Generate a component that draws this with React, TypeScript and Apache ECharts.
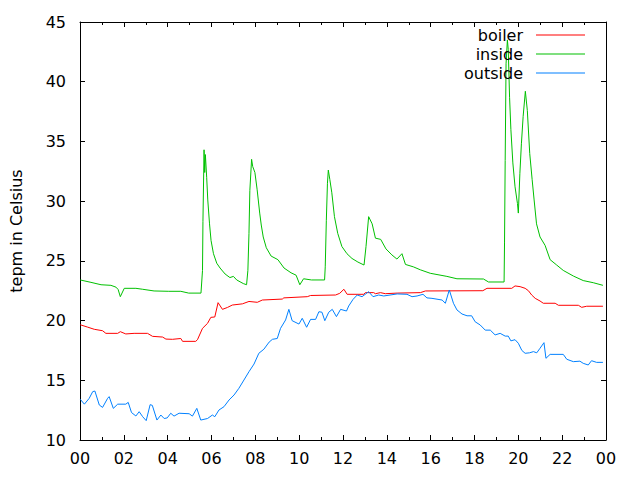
import React, { useEffect, useRef } from "react";
import * as echarts from "echarts";

// Hours of day (0-24) and temperatures in °C
const boilerHours = [0.01,0.35,0.65,1.03,1.18,1.72,1.84,2.09,2.47,3.08,3.31,3.77,3.92,4.22,4.60,4.68,5.28,5.36,5.59,5.82,5.97,6.15,6.30,6.50,6.73,6.95,7.41,7.71,8.09,8.32,9.23,9.30,10.37,10.52,11.66,11.85,12.04,12.19,12.95,13.02,13.40,13.48,13.71,13.93,14.47,15.53,15.76,18.38,18.57,19.70,19.85,20.08,20.31,20.46,20.61,20.77,20.99,21.14,21.68,21.83,22.74,22.89,23.12,23.86];
const boilerTemps = [19.65,19.45,19.27,19.15,18.93,18.93,19.07,18.88,18.93,18.93,18.68,18.62,18.45,18.43,18.5,18.26,18.26,18.4,19.35,19.77,20.27,20.3,21.5,20.94,21.1,21.3,21.4,21.6,21.53,21.72,21.8,21.9,22.0,22.1,22.14,22.28,22.62,22.2,22.2,22.34,22.34,22.25,22.34,22.25,22.3,22.34,22.48,22.5,22.7,22.7,22.9,22.84,22.7,22.5,22.14,21.86,21.64,21.45,21.45,21.28,21.28,21.11,21.2,21.2];

const insideHours = [0.01,0.50,0.96,1.41,1.64,1.74,1.84,2.02,2.55,2.86,3.38,4.05,4.60,4.96,5.52,5.59,5.61,5.66,5.69,5.72,5.78,5.83,5.91,5.98,6.09,6.24,6.39,6.62,6.84,7.00,7.15,7.45,7.60,7.66,7.71,7.75,7.83,7.88,7.98,8.08,8.20,8.27,8.36,8.50,8.72,9.03,9.31,9.63,9.86,10.03,10.20,10.56,11.16,11.19,11.24,11.29,11.33,11.40,11.49,11.61,11.76,11.95,12.18,12.41,12.68,12.96,13.05,13.17,13.33,13.48,13.72,13.96,14.23,14.46,14.69,14.85,15.21,15.53,15.98,16.74,17.20,18.41,18.64,19.35,19.37,19.40,19.44,19.50,19.54,19.60,19.66,19.75,19.85,19.96,20.00,20.07,20.14,20.22,20.32,20.41,20.52,20.63,20.72,20.83,20.99,21.22,21.45,21.75,22.05,22.51,22.96,23.42,23.86];
const insideTemps = [23.4,23.2,23.0,22.95,22.8,22.6,22.0,22.7,22.7,22.62,22.48,22.45,22.45,22.3,22.3,24.2,28.3,34.3,32.4,33.9,32.0,30.1,28.1,26.7,25.6,24.8,24.4,23.9,23.6,23.7,23.4,23.1,23.0,24.2,27.3,30.9,33.5,32.9,32.4,31.0,29.0,28.0,27.0,26.1,25.4,25.1,24.4,24.0,23.8,23.0,23.5,23.4,23.4,24.5,28.4,31.5,32.6,31.8,30.7,28.7,27.3,26.2,25.6,25.2,24.9,24.65,26.2,28.7,28.1,26.9,26.8,26.0,25.5,25.15,25.6,24.7,24.5,24.25,23.96,23.7,23.5,23.48,23.23,23.23,26.5,33.4,41.5,43.5,42.7,38.7,36.0,33.2,31.2,29.8,29.0,32.3,34.8,37.1,39.2,37.6,34.0,31.8,30.1,28.1,27.0,26.3,25.1,24.65,24.2,23.73,23.35,23.17,22.95];

const outsideHours = [0.01,0.20,0.42,0.58,0.68,0.88,1.03,1.26,1.33,1.52,1.72,2.09,2.20,2.35,2.55,2.70,2.86,3.02,3.20,3.30,3.51,3.69,3.84,3.98,4.14,4.29,4.52,4.98,5.13,5.33,5.51,5.82,6.04,6.15,6.34,6.57,6.80,7.03,7.25,7.48,7.71,7.94,8.16,8.39,8.63,8.78,9.00,9.15,9.38,9.53,9.68,9.99,10.14,10.34,10.52,10.75,10.90,11.04,11.17,11.35,11.51,11.70,11.89,12.16,12.26,12.46,12.65,12.87,13.17,13.37,13.63,13.86,14.47,14.92,15.15,15.38,15.65,15.83,16.06,16.52,16.67,16.85,17.04,17.20,17.43,17.66,17.87,18.03,18.26,18.49,18.72,18.94,19.17,19.40,19.54,19.66,19.85,20.00,20.16,20.31,20.51,20.69,20.84,20.99,21.17,21.26,21.45,22.05,22.21,22.51,22.81,22.96,23.19,23.34,23.57,23.86];
const outsideTemps = [13.41,13.0,13.49,14.05,14.1,12.93,12.73,13.49,13.63,12.65,13.0,13.0,13.15,12.3,12.01,12.37,11.95,11.62,12.96,12.9,11.67,12.09,11.8,11.85,12.24,12.0,12.24,12.2,12.0,12.65,11.67,11.8,12.09,11.95,12.51,12.79,13.35,13.77,14.33,15.02,15.72,16.36,17.26,17.6,18.2,18.43,18.5,19.35,20.05,20.94,19.99,19.71,20.19,19.44,20.1,20.1,20.74,20.7,19.99,20.7,20.94,20.33,20.94,20.8,21.22,21.78,22.14,22.0,22.42,22.0,22.14,22.06,22.23,22.2,22.0,22.06,22.2,21.9,21.86,21.72,21.45,22.56,21.45,20.89,20.55,20.4,20.4,19.9,19.63,19.2,19.2,18.8,18.93,18.7,18.7,18.3,18.4,18.1,17.5,17.26,17.3,17.4,17.3,17.68,18.15,16.84,17.17,17.17,16.76,16.56,16.6,16.42,16.28,16.64,16.5,16.5];

const seriesNames = ["boiler", "inside", "outside"];
const seriesColors = ["#ff0000", "#00c000", "#0080ff"];
const yAxisTitle = "tepm in Celsius";

const FONT = "DejaVu Sans";

export default function App() {
  const ref = useRef<HTMLDivElement>(null);

  useEffect(() => {
    if (!ref.current) return;
    const chart = echarts.init(ref.current, null, { renderer: "svg" });

    const pairs = (h: number[], v: number[]) => h.map((x, i) => [x, v[i]]);
    const datasets = [
      pairs(boilerHours, boilerTemps),
      pairs(insideHours, insideTemps),
      pairs(outsideHours, outsideTemps),
    ];

    const tickStyle = { color: "#000", width: 1 };
    const xBase = {
      type: "value",
      min: 0,
      max: 24,
      interval: 2,
      axisLine: { show: true, onZero: false, lineStyle: tickStyle },
      axisTick: { show: true, inside: true, length: 5, lineStyle: tickStyle },
      minorTick: { show: true, splitNumber: 2, length: 3, lineStyle: tickStyle },
      splitLine: { show: false },
    };
    const yBase = {
      type: "value",
      min: 10,
      max: 45,
      interval: 5,
      axisLine: { show: true, onZero: false, lineStyle: tickStyle },
      axisTick: { show: true, inside: true, length: 5, lineStyle: tickStyle },
      splitLine: { show: false },
    };

    const legendTops = [27, 46, 65];

    chart.setOption({
      animation: false,
      grid: { left: 79, right: 34, top: 22, bottom: 40, containLabel: false },
      legend: seriesNames.map((name, i) => ({
        data: [name],
        right: 55,
        top: legendTops[i],
        orient: "vertical",
        align: "right",
        padding: 0,
        icon: "rect",
        itemWidth: 49,
        itemHeight: 1,
        selectedMode: false,
        textStyle: {
          color: "#000",
          fontSize: 16,
          fontFamily: FONT,
          padding: [0, 8, 0, 0],
        },
      })),
      xAxis: [
        {
          ...xBase,
          position: "bottom",
          axisLabel: {
            show: true,
            color: "#000",
            fontSize: 16,
            fontFamily: FONT,
            margin: 10,
            formatter: (v: number) => String(Math.round(v) % 24).padStart(2, "0"),
          },
        },
        { ...xBase, position: "top", axisLabel: { show: false } },
      ],
      yAxis: [
        {
          ...yBase,
          position: "left",
          name: yAxisTitle,
          nameLocation: "middle",
          nameGap: 56,
          nameTextStyle: { color: "#000", fontSize: 16, fontFamily: FONT },
          axisLabel: { show: true, color: "#000", fontSize: 16, fontFamily: FONT, margin: 14 },
        },
        { ...yBase, position: "right", axisLabel: { show: false } },
      ],
      series: seriesNames.map((name, i) => ({
        type: "line",
        name,
        xAxisIndex: 0,
        yAxisIndex: 0,
        data: datasets[i],
        showSymbol: false,
        symbol: "none",
        silent: true,
        lineStyle: { color: seriesColors[i], width: 1 },
        itemStyle: { color: seriesColors[i] },
        emphasis: { disabled: true },
      })),
    });

    return () => chart.dispose();
  }, []);

  return (
    <div
      ref={ref}
      style={{ position: "fixed", left: 0, top: 0, width: 640, height: 480, background: "#fff" }}
    />
  );
}
